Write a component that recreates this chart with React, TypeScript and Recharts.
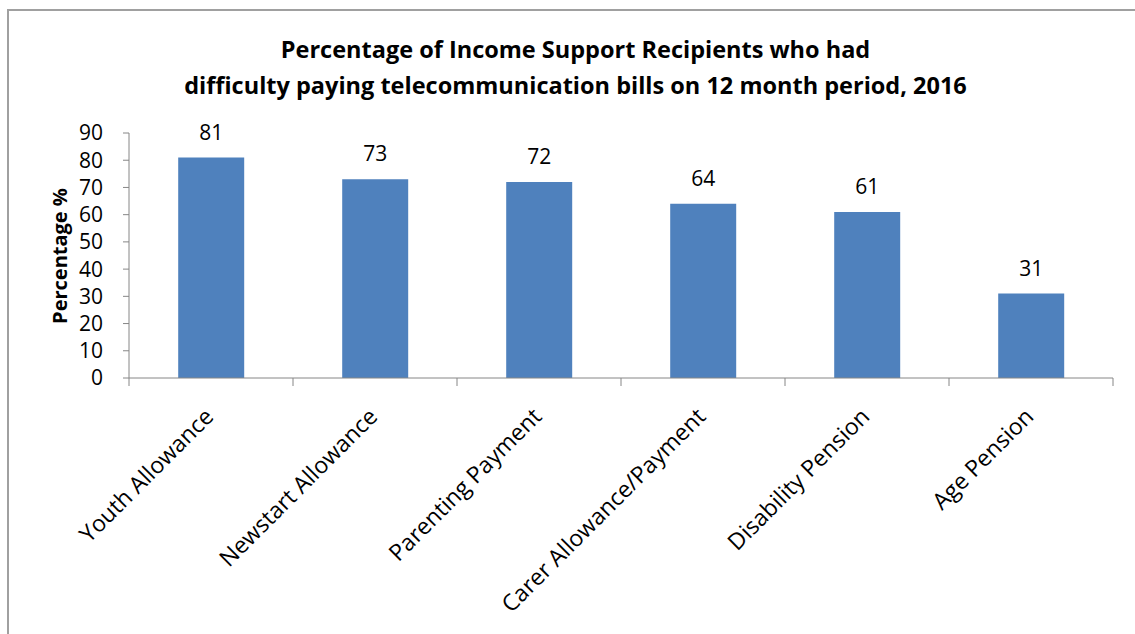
import { Bar, BarChart, LabelList, XAxis, YAxis } from 'recharts'

const CATEGORIES = [
  'Youth Allowance',
  'Newstart Allowance',
  'Parenting Payment',
  'Carer Allowance/Payment',
  'Disability Pension',
  'Age Pension',
]
const PERCENTAGES = [81, 73, 72, 64, 61, 31]
const Y_TICKS = [0, 10, 20, 30, 40, 50, 60, 70, 80, 90]
const TITLE_LINES = [
  'Percentage of Income Support Recipients who had',
  'difficulty paying telecommunication bills on 12 month period, 2016',
]
const Y_LABEL = 'Percentage %'

const W = 1135
const H = 634
const PLOT_LEFT = 129
const PLOT_RIGHT = 1113
const PLOT_TOP = 133
const PLOT_BOTTOM = 378
const BAND = (PLOT_RIGHT - PLOT_LEFT) / CATEGORIES.length
const AXIS = '#868686'
const FONT = '"Open Sans", sans-serif'

const data = CATEGORIES.map((name, i) => ({ name, value: PERCENTAGES[i] }))

// Excel puts category ticks on the boundaries, not the centres
function CategoryTick({ x, y, index, payload }: { x: number; y: number; index: number; payload: { value: string } }) {
  const left = x - BAND / 2
  const tx = x + 4
  const ty = y + 40
  return (
    <g>
      <line x1={left} x2={left} y1={y} y2={y + 8} stroke={AXIS} />
      {index === CATEGORIES.length - 1 && <line x1={x + BAND / 2} x2={x + BAND / 2} y1={y} y2={y + 8} stroke={AXIS} />}
      <text
        x={tx}
        y={ty}
        transform={`rotate(-45 ${tx} ${ty})`}
        textAnchor="end"
        fill="#000"
        fontSize={23}
        fontFamily={FONT}
      >
        {payload.value}
      </text>
    </g>
  )
}

export default function App() {
  return (
    <div style={{ position: 'fixed', left: 0, top: 0, width: W, height: H, overflow: 'hidden', background: '#fff' }}>
      <div
        style={{
          position: 'absolute',
          left: 7,
          top: 9,
          width: 1200,
          height: 700,
          border: '2px solid #a0a0a0',
        }}
      />
      <div
        style={{
          position: 'absolute',
          left: 0,
          top: 31,
          width: 1151,
          textAlign: 'center',
          fontFamily: FONT,
          fontWeight: 'bold',
          fontSize: 23.5,
          lineHeight: '36px',
          color: '#000',
        }}
      >
        {TITLE_LINES.map((t) => (
          <div key={t}>{t}</div>
        ))}
      </div>
      <div
        style={{
          position: 'absolute',
          left: 59,
          top: 256,
          transform: 'translate(-50%, -50%) rotate(-90deg)',
          whiteSpace: 'nowrap',
          fontFamily: FONT,
          fontWeight: 'bold',
          fontSize: 20,
          color: '#000',
        }}
      >
        {Y_LABEL}
      </div>
      <div style={{ position: 'absolute', left: 0, top: 0 }}>
        <BarChart
          width={W}
          height={H}
          data={data}
          margin={{ top: PLOT_TOP, right: W - PLOT_RIGHT, bottom: 0, left: 0 }}
          barCategoryGap="30%"
        >
          <XAxis
            dataKey="name"
            height={H - PLOT_BOTTOM}
            axisLine={{ stroke: AXIS }}
            tickLine={false}
            tickSize={0}
            tickMargin={0}
            interval={0}
            tick={(props: any) => <CategoryTick {...props} />}
          />
          <YAxis
            width={PLOT_LEFT}
            domain={[0, 90]}
            ticks={Y_TICKS}
            interval={0}
            axisLine={{ stroke: AXIS }}
            tickLine={{ stroke: AXIS }}
            tickSize={6}
            tickMargin={20}
            tick={{ fill: '#000', fontSize: 21, fontFamily: FONT }}
          />
          <Bar dataKey="value" fill="#4F81BD" isAnimationActive={false}>
            <LabelList dataKey="value" position="top" offset={18} fill="#000" fontSize={21} fontFamily={FONT} />
          </Bar>
        </BarChart>
      </div>
    </div>
  )
}
